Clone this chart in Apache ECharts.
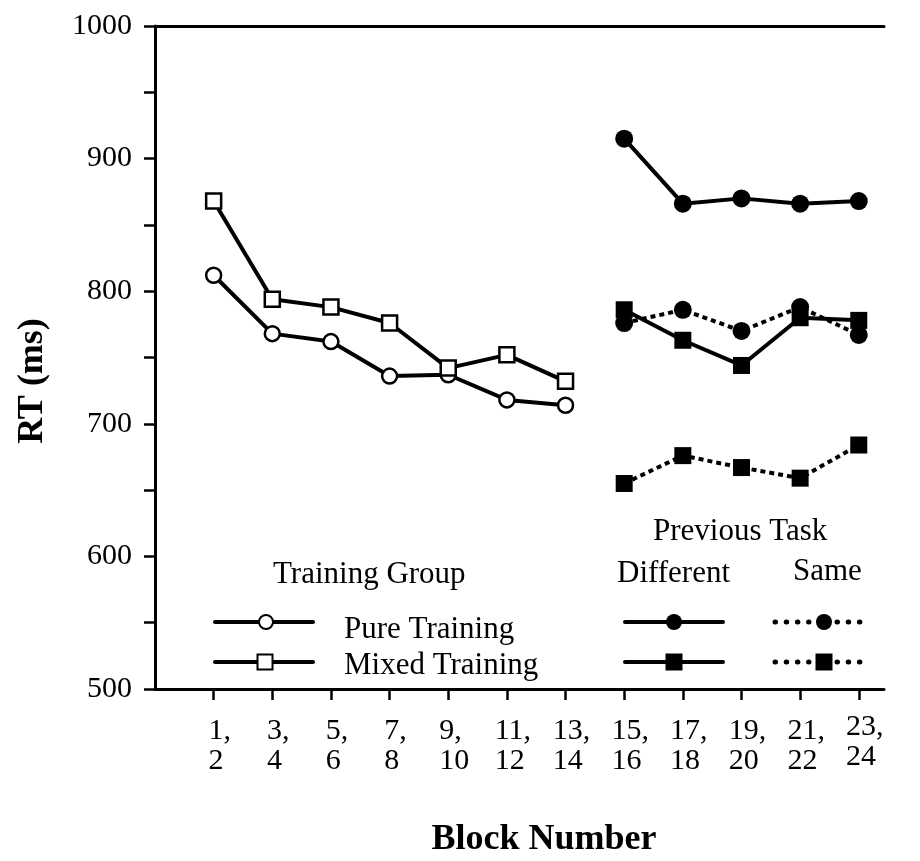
<!DOCTYPE html>
<html>
<head>
<meta charset="utf-8">
<script src="https://cdn.jsdelivr.net/npm/echarts@6/dist/echarts.min.js"></script>
<style>
  html, body { margin: 0; padding: 0; background: #fff; }
  #chart { width: 920px; height: 861px; }
</style>
</head>
<body>
<div id="chart"></div>
<script>
// Block pairs shown on the x axis
const blockLabels = ['1,\n2', '3,\n4', '5,\n6', '7,\n8', '9,\n10', '11,\n12', '13,\n14',
                     '15,\n16', '17,\n18', '19,\n20', '21,\n22', '23,\n24'];
// Training phase (blocks 1-14) and test phase (blocks 15-24) positions on the axis
const trainingBlocks = [0, 1, 2, 3, 4, 5, 6];
const testBlocks = [7, 8, 9, 10, 11];

// Mean RT (ms) during training
const pureTraining = [812, 768, 762, 736, 737, 718, 714];
const mixedTraining = [868, 794, 788, 776, 742, 752, 732];

// Mean RT (ms) at test, split by whether the previous task was different or the same
const pureDifferent = [915, 866, 870, 866, 868];
const pureSame = [776, 786, 770, 788, 767];
const mixedDifferent = [786, 763, 744, 780, 778];
const mixedSame = [655, 676, 667, 659, 684];

// Labelled y ticks
const yTickLabels = [500, 600, 700, 800, 900, 1000];

const SERIF = '"Liberation Serif", "Times New Roman", serif';
const INK = '#000';

function pairs(xs, ys) {
  return xs.map((x, i) => [x, ys[i]]);
}

function lineSeries(name, xs, ys, opts) {
  return {
    name: name,
    type: 'line',
    data: pairs(xs, ys),
    symbol: opts.symbol,
    symbolSize: opts.size,
    showSymbol: true,
    silent: true,
    animation: false,
    z: opts.z || 2,
    lineStyle: {
      color: INK,
      width: 4,
      type: opts.dashed ? [5, 4] : 'solid',
      cap: 'butt'
    },
    itemStyle: {
      color: opts.filled ? INK : '#fff',
      borderColor: INK,
      borderWidth: opts.filled ? 0 : 2.5,
      opacity: 1
    },
    emphasis: { disabled: true }
  };
}

const tickIdx = blockLabels.map((_, i) => i);

const chart = echarts.init(document.getElementById('chart'), null, { renderer: 'canvas' });

// Legend samples
const legendFont = '31px ' + SERIF;
const legendItems = [];
function text(str, x, y, font) {
  legendItems.push({
    type: 'text', x: x, y: y, silent: true,
    style: { text: str, font: font || legendFont, fill: INK, align: 'left', verticalAlign: 'middle' }
  });
}
function sampleLine(x1, x2, y, dotted) {
  legendItems.push({
    type: 'line', silent: true,
    shape: { x1: x1, y1: y, x2: x2, y2: y },
    style: dotted
      ? { stroke: INK, lineWidth: 5, lineDash: [0.5, 10.7], lineCap: 'round' }
      : { stroke: INK, lineWidth: 4, lineCap: 'round' }
  });
}
function sampleCircle(cx, cy, r, filled) {
  legendItems.push({
    type: 'circle', silent: true,
    shape: { cx: cx, cy: cy, r: r },
    style: { fill: filled ? INK : '#fff', stroke: INK, lineWidth: filled ? 0 : 2 }
  });
}
function sampleSquare(cx, cy, s, filled) {
  legendItems.push({
    type: 'rect', silent: true,
    shape: { x: cx - s / 2, y: cy - s / 2, width: s, height: s },
    style: { fill: filled ? INK : '#fff', stroke: INK, lineWidth: filled ? 0 : 2 }
  });
}
function dottedSample(y) {
  sampleLine(775, 809, y, true);
  sampleLine(837, 861, y, true);
}

text('Training Group', 273, 575);
sampleLine(215, 313, 622, false);
sampleCircle(266, 622, 7, false);
text('Pure Training', 344, 630);
sampleLine(215, 313, 662, false);
sampleSquare(265, 662, 15, false);
text('Mixed Training', 344, 666);

text('Previous Task', 653, 532);
text('Different', 617, 574);
text('Same', 793, 572);
sampleLine(625, 723, 622, false);
sampleCircle(674, 622, 8, true);
sampleLine(625, 723, 662, false);
sampleSquare(674, 662, 17, true);
dottedSample(622);
sampleCircle(824, 622, 8, true);
dottedSample(662);
sampleSquare(824, 662, 17, true);

// Axis titles
legendItems.push({
  type: 'text', x: 33, y: 381, rotation: Math.PI / 2, silent: true,
  style: { text: 'RT (ms)', font: 'bold 36px ' + SERIF, fill: INK, align: 'center', verticalAlign: 'middle' }
});
legendItems.push({
  type: 'text', x: 544, y: 840, silent: true,
  style: { text: 'Block Number', font: 'bold 36px ' + SERIF, fill: INK, align: 'center', verticalAlign: 'middle' }
});

const option = {
  backgroundColor: '#fff',
  animation: false,
  grid: { left: 155, right: 36, top: 26, bottom: 172, containLabel: false },
  xAxis: [
    {
      type: 'value',
      position: 'bottom',
      min: -1,
      max: 11.43,
      interval: 1,
      splitLine: { show: false },
      axisLine: { show: true, onZero: false, lineStyle: { color: INK, width: 3 } },
      axisTick: {
        show: true, inside: false, length: 11, customValues: tickIdx,
        lineStyle: { color: INK, width: 2.5 }
      },
      axisLabel: {
        show: true,
        customValues: tickIdx,
        margin: 23,
        align: 'center',
        padding: [0, 0, 0, 12],
        formatter: function (v) {
          const lab = blockLabels[Math.round(v)];
          if (lab === undefined) return '';
          const parts = lab.split('\n');
          const body = '{a|' + parts[0] + '}\n{a|' + parts[1] + '}';
          // the last pair sits a little higher than the rest
          return (Math.round(v) === blockLabels.length - 1) ? body : '{s| }\n' + body;
        },
        rich: {
          a: { fontFamily: SERIF, fontSize: 30, lineHeight: 30, color: INK, align: 'left' },
          s: { fontSize: 1, lineHeight: 4 }
        }
      }
    },
    {
      type: 'value',
      position: 'top',
      min: -1,
      max: 11.43,
      splitLine: { show: false },
      axisLine: { show: true, onZero: false, lineStyle: { color: INK, width: 3 } },
      axisTick: { show: false },
      axisLabel: { show: false }
    }
  ],
  yAxis: {
    type: 'value',
    min: 500,
    max: 1000,
    interval: 50,
    splitLine: { show: false },
    axisLine: { show: true, onZero: false, lineStyle: { color: INK, width: 3 } },
    axisTick: { show: true, inside: false, length: 11, lineStyle: { color: INK, width: 2.5 } },
    axisLabel: {
      margin: 23,
      color: INK,
      fontFamily: SERIF,
      fontSize: 30,
      formatter: function (v) {
        return yTickLabels.indexOf(v) >= 0 ? String(v) : '';
      }
    }
  },
  series: [
    lineSeries('Pure Training', trainingBlocks, pureTraining, { symbol: 'circle', size: 15, filled: false, z: 3 }),
    lineSeries('Mixed Training', trainingBlocks, mixedTraining, { symbol: 'rect', size: 15, filled: false, z: 4 }),
    lineSeries('Pure Training, Same', testBlocks, pureSame, { symbol: 'circle', size: 18, filled: true, dashed: true, z: 2 }),
    lineSeries('Mixed Training, Same', testBlocks, mixedSame, { symbol: 'rect', size: 17, filled: true, dashed: true, z: 2 }),
    lineSeries('Pure Training, Different', testBlocks, pureDifferent, { symbol: 'circle', size: 18, filled: true, z: 3 }),
    lineSeries('Mixed Training, Different', testBlocks, mixedDifferent, { symbol: 'rect', size: 17, filled: true, z: 4 })
  ],
  graphic: legendItems
};

chart.setOption(option);
</script>
</body>
</html>
